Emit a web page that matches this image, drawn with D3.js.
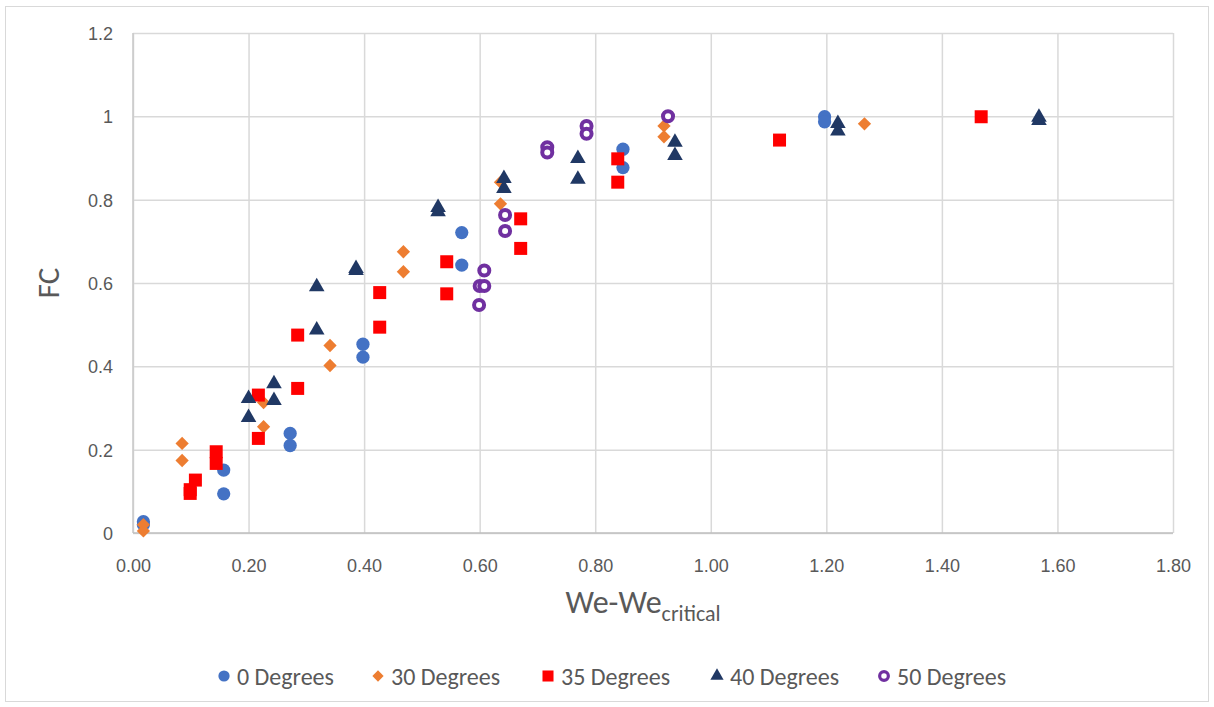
<!DOCTYPE html>
<html>
<head>
<meta charset="utf-8">
<script src="https://cdn.jsdelivr.net/npm/d3@7"></script>
<style>
  html, body { margin: 0; padding: 0; background: #ffffff; }
  svg { display: block; font-family: Carlito, Calibri, Lato, "Open Sans", sans-serif; }
</style>
</head>
<body>
<svg id="chart" width="1214" height="707"></svg>
<script>
// Series names (legend order = drawing order)
const categories = ["0 Degrees", "30 Degrees", "35 Degrees", "40 Degrees", "50 Degrees"];

// 0 degrees
const deg0X = [0.018, 0.018, 0.157, 0.157, 0.272, 0.272, 0.398, 0.398, 0.569, 0.569, 0.848, 0.848, 1.197, 1.197];
const deg0Y = [0.027, 0.020, 0.151, 0.094, 0.239, 0.210, 0.453, 0.422, 0.721, 0.643, 0.921, 0.877, 0.999, 0.987];

// 30 degrees
const deg30X = [0.018, 0.018, 0.085, 0.085, 0.226, 0.226, 0.341, 0.341, 0.468, 0.468, 0.636, 0.636, 0.919, 0.919, 1.266];
const deg30Y = [0.020, 0.005, 0.215, 0.174, 0.313, 0.255, 0.450, 0.402, 0.675, 0.627, 0.842, 0.790, 0.977, 0.951, 0.982];

// 35 degrees
const deg35X = [0.099, 0.099, 0.108, 0.144, 0.144, 0.217, 0.217, 0.285, 0.285, 0.427, 0.427, 0.543, 0.543, 0.671, 0.671, 0.839, 0.839, 1.119, 1.468];
const deg35Y = [0.104, 0.095, 0.127, 0.195, 0.167, 0.331, 0.227, 0.475, 0.347, 0.577, 0.494, 0.651, 0.574, 0.754, 0.683, 0.898, 0.842, 0.943, 0.999];

// 40 degrees
const deg40X = [0.200, 0.200, 0.244, 0.244, 0.318, 0.318, 0.386, 0.386, 0.528, 0.528, 0.642, 0.642, 0.770, 0.770, 0.938, 0.938, 1.220, 1.220, 1.568, 1.568];
const deg40Y = [0.323, 0.277, 0.358, 0.318, 0.591, 0.487, 0.635, 0.630, 0.781, 0.771, 0.851, 0.827, 0.899, 0.849, 0.938, 0.906, 0.983, 0.965, 0.998, 0.990];

// 50 degrees
const deg50X = [0.599, 0.600, 0.608, 0.608, 0.644, 0.644, 0.717, 0.717, 0.785, 0.785, 0.926];
const deg50Y = [0.547, 0.593, 0.593, 0.630, 0.763, 0.725, 0.926, 0.913, 0.977, 0.958, 1.000];

// Axis ticks
const xTicks = [0, 0.2, 0.4, 0.6, 0.8, 1.0, 1.2, 1.4, 1.6, 1.8];
const yTicks = [0, 0.2, 0.4, 0.6, 0.8, 1.0, 1.2];

const seriesX = [deg0X, deg30X, deg35X, deg40X, deg50X];
const seriesY = [deg0Y, deg30Y, deg35Y, deg40Y, deg50Y];

// Marker styling per series
const styles = [
  { type: d3.symbolCircle,   size: 138, fill: "#4472C4", stroke: "none",    sw: 0, rotate: 0 },
  { type: d3.symbolSquare,   size: 88,  fill: "#ED7D31", stroke: "none",    sw: 0, rotate: 45 },
  { type: d3.symbolSquare,   size: 169, fill: "#FF0000", stroke: "none",    sw: 0, rotate: 0 },
  { type: d3.symbolTriangle, size: 105, fill: "#203864", stroke: "none",    sw: 0, rotate: 0 },
  { type: d3.symbolCircle,   size: 79,  fill: "#FFFFFF", stroke: "#7030A0", sw: 4, rotate: 0 }
];

const svg = d3.select("#chart");
const W = 1214, H = 707;
const plotLeft = 133, plotRight = 1173, plotTop = 33, plotBottom = 533;

const x = d3.scaleLinear().domain([0, 1.8]).range([plotLeft, plotRight]);
const y = d3.scaleLinear().domain([0, 1.2]).range([plotBottom, plotTop]);

// Chart frame
svg.append("rect")
  .attr("x", 5.5).attr("y", 6.5)
  .attr("width", W - 11).attr("height", H - 12)
  .attr("fill", "#ffffff").attr("stroke", "#D9D9D9").attr("stroke-width", 1);

// Y axis with horizontal gridlines
const yAxis = svg.append("g")
  .attr("transform", `translate(${plotLeft},0)`)
  .call(d3.axisLeft(y).tickValues(yTicks)
    .tickSize(-(plotRight - plotLeft)).tickPadding(20)
    .tickFormat(d => d3.format("~g")(d)));
yAxis.select(".domain").remove();
yAxis.selectAll(".tick line").attr("stroke", "#D9D9D9").attr("stroke-width", 1.5);
yAxis.selectAll(".tick text")
  .attr("fill", "#595959").attr("font-size", 18)
  .attr("dy", "0.36em");

// X axis with vertical gridlines
const xAxis = svg.append("g")
  .attr("transform", `translate(0,${plotBottom})`)
  .call(d3.axisBottom(x).tickValues(xTicks)
    .tickSize(-(plotBottom - plotTop))
    .tickFormat(d3.format(".2f")));
xAxis.select(".domain").remove();
xAxis.selectAll(".tick line").attr("stroke", "#D9D9D9").attr("stroke-width", 1.5);
xAxis.selectAll(".tick text")
  .attr("fill", "#595959").attr("font-size", 18)
  .attr("y", 39).attr("dy", null);

// Axis lines
svg.append("line")
  .attr("x1", plotLeft).attr("x2", plotLeft).attr("y1", plotTop).attr("y2", plotBottom)
  .attr("stroke", "#C8C8C8").attr("stroke-width", 1.5);
svg.append("line")
  .attr("x1", plotLeft).attr("x2", plotRight).attr("y1", plotBottom).attr("y2", plotBottom)
  .attr("stroke", "#BFBFBF").attr("stroke-width", 1.5);

// Axis titles
const xTitle = svg.append("text")
  .attr("x", 643).attr("y", 613)
  .attr("text-anchor", "middle")
  .attr("fill", "#595959").attr("font-size", 32);
xTitle.append("tspan").text("We-We");
xTitle.append("tspan").attr("font-size", 22).attr("dy", 8).text("critical");

svg.append("text")
  .attr("transform", "translate(59,283) rotate(-90)")
  .attr("text-anchor", "middle")
  .attr("fill", "#595959").attr("font-size", 31)
  .text("FC");

// Scatter markers
categories.forEach((name, i) => {
  const st = styles[i];
  const sym = d3.symbol().type(st.type).size(st.size);
  const pts = seriesX[i].map((v, k) => [v, seriesY[i][k]]);
  svg.append("g").attr("class", "series")
    .selectAll("path")
    .data(pts)
    .join("path")
    .attr("d", sym)
    .attr("transform", d => `translate(${x(d[0])},${y(d[1])}) rotate(${st.rotate})`)
    .attr("fill", st.fill)
    .attr("stroke", st.stroke)
    .attr("stroke-width", st.sw);
});

// Legend
const legendMarkerX = [224, 378, 548, 717, 884];
const legendY = 676;
const legend = svg.append("g").attr("class", "legend");
categories.forEach((name, i) => {
  const st = styles[i];
  const scale = i === 4 ? 0.75 : 0.72;
  const sym = d3.symbol().type(st.type).size(st.size * scale);
  legend.append("path")
    .attr("d", sym)
    .attr("transform", `translate(${legendMarkerX[i]},${legendY}) rotate(${st.rotate})`)
    .attr("fill", st.fill)
    .attr("stroke", st.stroke)
    .attr("stroke-width", i === 4 ? 3.2 : 0);
  legend.append("text")
    .attr("x", legendMarkerX[i] + 13).attr("y", legendY)
    .attr("dy", "0.36em")
    .attr("fill", "#595959").attr("font-size", 24)
    .text(name);
});
</script>
</body>
</html>
